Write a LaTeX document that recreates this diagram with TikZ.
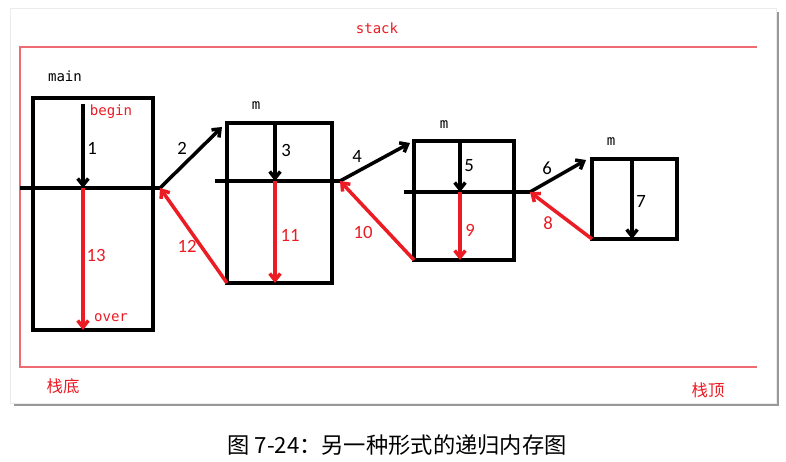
\documentclass[tikz,border=0pt]{standalone}
\usepackage{fontspec}
\setsansfont{Carlito}
\setmonofont{DejaVu Sans Mono}
\newfontfamily\cjk{Noto Sans CJK SC}
\usetikzlibrary{arrows.meta}

\definecolor{callred}{RGB}{236,28,36}
\definecolor{framered}{RGB}{240,108,116}

\begin{document}
\begin{tikzpicture}[x=0.3mm, y=-0.3mm,
    frame/.style 2 args={
        rectangle, draw=black, line width=3pt,
        inner sep=0pt, outer sep=0pt,
        minimum width=#1*0.3mm, minimum height=#2*0.3mm
    },
    split/.style={draw=black, line width=3pt},
    call/.style={-{Straight Barb[length=2mm, width=3.2mm]}, line width=3pt, draw=black},
    back/.style={call, draw=callred},
    num/.style={font=\sffamily\fontsize{16}{18}\selectfont},
    rnum/.style={num, text=callred},
    mono/.style={font=\ttfamily\fontsize{12}{14}\selectfont},
    rmono/.style={mono, text=callred},
    cnote/.style={font=\cjk\fontsize{14}{16}\selectfont, text=callred},
]

% Sfondo e cornice
\useasboundingbox[fill=white] (0,0) rectangle (786,461);
\fill[black!40] (14,12) rectangle (779,406);
\fill[white, draw=black!8] (10,8) rectangle (776,403);

% Stack
\draw[framered, line width=1.2pt] (757,47) -- (20,47) -- (20,367) -- (757,367);
\node[rmono] (stack) at (377,28) {stack};
\node[cnote] (bottom) at (63,386) {栈底};
\node[cnote] (top) at (708,390) {栈顶};

% Frame
\node[frame={120}{232}] (main) at (93,214) {};
\node[frame={105}{160}] (m1) at (279.5,203) {};
\node[frame={100}{119}] (m2) at (464,200.5) {};
\node[frame={85}{80}] (m3) at (634.5,199) {};

\node[mono] (main-name) at (65,76) {main};
\node[mono] (m1-name) at (256,106) {m};
\node[mono] (m2-name) at (444,125) {m};
\node[mono] (m3-name) at (611,142) {m};

% Punti di chiamata
\coordinate (main-top) at (83,104);
\coordinate (main-mid) at (83,188);
\coordinate (main-l) at (20,188);
\coordinate (main-r) at (160,188);

\coordinate (m1-mid) at (275,181);
\coordinate (m1-l) at (215,181);
\coordinate (m1-r) at (340,181);
\coordinate (m1-in) at (222,127);

\coordinate (m2-mid) at (460,192);
\coordinate (m2-l) at (404,192);
\coordinate (m2-r) at (530,192);
\coordinate (m2-in) at (410,143);

\coordinate (m3-mid) at (632,199);
\coordinate (m3-in) at (586,160);

% Linee orizzontali
\draw[split] (main-l) -- (main-r);
\draw[split] (m1-l) -- (m1-r);
\draw[split] (m2-l) -- (m2-r);

% Andata
\draw[call] (main-top) -- (main-mid);
\draw[call] (main-r) -- (m1-in);
\draw[call] (m1-mid |- m1.north) -- (m1-mid);
\draw[call] (m1-r) -- (m2-in);
\draw[call] (m2-mid |- m2.north) -- (m2-mid);
\draw[call] (m2-r) -- (m3-in);
\draw[call] (m3-mid |- m3.north) -- (m3-mid |- m3.south);

% Ritorno
\draw[back] (m3.south west) -- (m2-r);
\draw[back] (m2-mid) -- (m2-mid |- m2.south);
\draw[back] (m2.south west) -- (m1-r);
\draw[back] (m1-mid) -- (m1-mid |- m1.south);
\draw[back] (m1.south west) -- (main-r);
\draw[back] (main-mid) -- (main-mid |- main.south);

% Etichette
\node[rmono] (begin) at (111,112) {begin};
\node[rmono] (over) at (111,318) {over};

\node[num] (s1) at (92,148) {1};
\node[num] (s2) at (182,148) {2};
\node[num] (s3) at (286,150) {3};
\node[num] (s4) at (357,156) {4};
\node[num] (s5) at (469,166) {5};
\node[num] (s6) at (547,168) {6};
\node[num] (s7) at (641,201) {7};

\node[rnum] (s8) at (548,223) {8};
\node[rnum] (s9) at (470,230) {9};
\node[rnum] (s10) at (363,232) {10};
\node[rnum] (s11) at (290,235) {11};
\node[rnum] (s12) at (187,246) {12};
\node[rnum] (s13) at (96,255) {13};

% Didascalia
\node[font=\cjk\fontsize{19}{21}\selectfont] (caption) at (397,445)
    {图 7-24：另一种形式的递归内存图};

\end{tikzpicture}
\end{document}
